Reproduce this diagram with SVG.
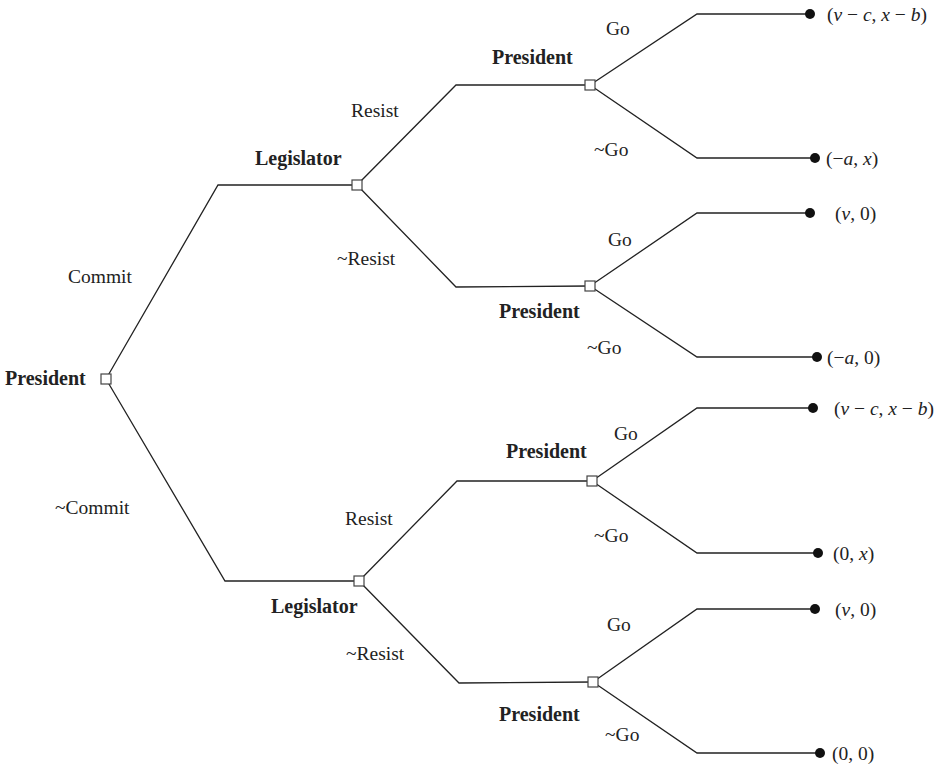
<svg xmlns="http://www.w3.org/2000/svg" width="941" height="766" viewBox="0 0 941 766">
<style>
.e{fill:none;stroke:#222;stroke-width:1.3}
.n{fill:#fff;stroke:#444;stroke-width:1.2}
.d{fill:#111}
text{font-family:"Liberation Serif","Times New Roman",serif;font-size:19.5px;fill:#222}
.p{font-weight:bold;font-size:20px}
.i{font-style:italic}
</style>
<rect width="941" height="766" fill="#fff"/>
<g id="connectors">
<polyline class="e" points="106,379 218,185 357,185"/>
<polyline class="e" points="106,379 225,581 359,581"/>
<polyline class="e" points="357,185 456,85 590,85"/>
<polyline class="e" points="357,185 456,287 590,286"/>
<polyline class="e" points="359,581 457,481 592,481"/>
<polyline class="e" points="359,581 459,683 593,682"/>
<polyline class="e" points="590,85 697,14 810,14"/>
<polyline class="e" points="590,85 697,158 815,158"/>
<polyline class="e" points="590,286 697,213 810,213"/>
<polyline class="e" points="590,286 697,357 817,357"/>
<polyline class="e" points="592,481 697,408 813,408"/>
<polyline class="e" points="592,481 697,553 818,553"/>
<polyline class="e" points="593,682 697,609 815,609"/>
<polyline class="e" points="593,682 697,753 820,753"/>
</g>
<g id="edge-labels">
<text x="68" y="283">Commit</text>
<text x="55" y="514">~Commit</text>
<text x="351" y="117">Resist</text>
<text x="337" y="265">~Resist</text>
<text x="345" y="525">Resist</text>
<text x="346" y="660">~Resist</text>
<text x="606" y="35">Go</text>
<text x="594" y="156">~Go</text>
<text x="608" y="246">Go</text>
<text x="587" y="354">~Go</text>
<text x="614" y="440">Go</text>
<text x="594" y="542">~Go</text>
<text x="607" y="631">Go</text>
<text x="605" y="741">~Go</text>
</g>
<g id="n0"><rect class="n" x="101" y="374" width="10" height="10"/><text class="p" x="5" y="385">President</text></g>
<g id="n1"><rect class="n" x="352" y="180" width="10" height="10"/><text class="p" x="255" y="165">Legislator</text></g>
<g id="n2"><rect class="n" x="354" y="576" width="10" height="10"/><text class="p" x="271" y="613">Legislator</text></g>
<g id="n3"><rect class="n" x="585" y="80" width="10" height="10"/><text class="p" x="492" y="64">President</text></g>
<g id="n4"><rect class="n" x="585" y="281" width="10" height="10"/><text class="p" x="499" y="318">President</text></g>
<g id="n5"><rect class="n" x="587" y="476" width="10" height="10"/><text class="p" x="506" y="458">President</text></g>
<g id="n6"><rect class="n" x="588" y="677" width="10" height="10"/><text class="p" x="499" y="721">President</text></g>
<g id="t1"><circle class="d" cx="810" cy="14" r="5"/><text x="827" y="21">(<tspan class="i">v</tspan> − <tspan class="i">c</tspan>, <tspan class="i">x</tspan> − <tspan class="i">b</tspan>)</text></g>
<g id="t2"><circle class="d" cx="815" cy="158" r="5"/><text x="826" y="165">(−<tspan class="i">a</tspan>, <tspan class="i">x</tspan>)</text></g>
<g id="t3"><circle class="d" cx="810" cy="213" r="5"/><text x="835" y="220">(<tspan class="i">v</tspan>, 0)</text></g>
<g id="t4"><circle class="d" cx="817" cy="357" r="5"/><text x="827" y="364">(−<tspan class="i">a</tspan>, 0)</text></g>
<g id="t5"><circle class="d" cx="813" cy="408" r="5"/><text x="834" y="415">(<tspan class="i">v</tspan> − <tspan class="i">c</tspan>, <tspan class="i">x</tspan> − <tspan class="i">b</tspan>)</text></g>
<g id="t6"><circle class="d" cx="818" cy="553" r="5"/><text x="833" y="560">(0, <tspan class="i">x</tspan>)</text></g>
<g id="t7"><circle class="d" cx="815" cy="609" r="5"/><text x="835" y="616">(<tspan class="i">v</tspan>, 0)</text></g>
<g id="t8"><circle class="d" cx="820" cy="753" r="5"/><text x="832" y="760">(0, 0)</text></g>
</svg>
